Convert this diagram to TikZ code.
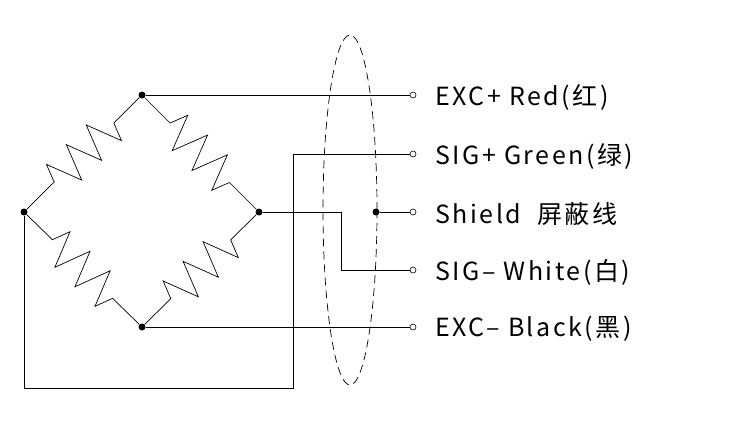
\documentclass[tikz,border=0pt]{standalone}
\usepackage{fontspec}
\setmainfont{Noto Sans CJK SC}[LetterSpace=10]
\usetikzlibrary{decorations.pathmorphing}
\begin{document}
\begin{tikzpicture}[x=1pt,y=-1pt,
  wire/.style={line width=0.7pt},
  res/.style={wire,decorate,decoration={zigzag,segment length=28pt,amplitude=18pt,pre length=36pt,post length=36pt}},
  dot/.style={circle,fill,inner sep=0pt,minimum size=7pt},
  term/.style={circle,draw,fill=white,inner sep=0pt,minimum size=6pt,line width=0.6pt},
  lab/.style={anchor=west,font=\fontsize{25}{28}\selectfont,inner sep=0pt}]
\useasboundingbox (0,0) rectangle (730,432);
\node[dot] (T) at (142,95) {};
\node[dot] (L) at (24,212) {};
\node[dot] (R) at (259,212) {};
\node[dot] (B) at (142,327) {};
\foreach \n/\y in {t1/95,t2/154,t3/212,t4/270,t5/327} \node[term] (\n) at (413,\y) {};
\node[dot] (S) at (376,212) {};
\draw[res] (T) -- (L);
\draw[res] (T) -- (R);
\draw[res] (L) -- (B);
\draw[res] (R) -- (B);
\draw[wire] (T) -- (t1);
\draw[wire] (B) -- (t5);
\draw[wire] (S) -- (t3);
\draw[wire] (L) |- (293,388) -- (293,154) -- (t2);
\draw[wire] (R) -- (341,212) |- (t4);
\draw[wire,dashed,dash pattern=on 8pt off 5pt] (350,210) ellipse (27 and 175);
\node[lab] (l1) at (435,97) {EXC+ Red(红)};
\node[lab] (l2) at (435,156) {SIG+ Green(绿)};
\node[lab] (l3) at (435,214) {Shield\ \ 屏蔽线};
\node[lab] (l4) at (435,272) {SIG– White(白)};
\node[lab] (l5) at (435,329) {EXC– Black(黑)};
\end{tikzpicture}
\end{document}
